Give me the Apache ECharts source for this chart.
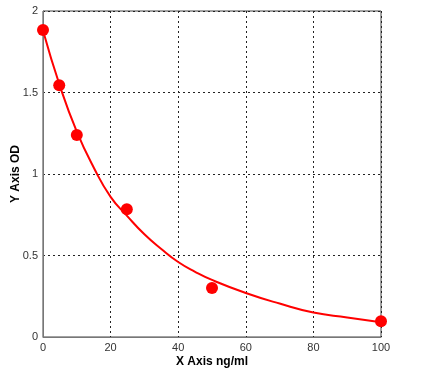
<!DOCTYPE html>
<html>
<head>
<meta charset="utf-8">
<script src="https://cdn.jsdelivr.net/npm/echarts@6/dist/echarts.min.js"></script>
<style>
html, body { margin: 0; padding: 0; background: #fff; }
#chart { width: 425px; height: 377px; }
</style>
</head>
<body>
<div id="chart"></div>
<script>
// measured standards
var pointX = [0, 4.8, 10, 24.8, 50, 100];
var pointY = [1.883, 1.544, 1.239, 0.784, 0.30, 0.096];

// fitted curve
var curveX = [0, 5, 10, 15, 20, 25, 30, 35, 40, 45, 50, 60, 70, 80, 90, 100];
var curveY = [1.88, 1.54, 1.26, 1.04, 0.86, 0.74, 0.63, 0.54, 0.46, 0.40, 0.35, 0.27, 0.205, 0.15, 0.12, 0.09];

var xTicks = [0, 20, 40, 60, 80, 100];
var yTicks = [0, 0.5, 1, 1.5, 2];

var pairs = function (xs, ys) {
    return xs.map(function (x, i) { return [x, ys[i]]; });
};

var myChart = echarts.init(document.getElementById('chart'));
var option = {
    animation: false,
    textStyle: { fontFamily: 'Liberation Sans, Arial, sans-serif' },
    grid: {
        left: 43, right: 44, top: 11, bottom: 40,
        outerBoundsMode: 'none', containLabel: false,
        show: true, borderColor: '#444', borderWidth: 1
    },
    xAxis: {
        type: 'value', min: 0, max: 100, interval: 20,
        name: 'X Axis ng/ml', nameLocation: 'middle', nameGap: 19,
        nameMoveOverlap: false,
        nameTextStyle: { fontWeight: 'bold', fontSize: 12, color: '#000', verticalAlign: 'top' },
        axisLine: { lineStyle: { color: '#777', width: 1 } },
        axisTick: { show: false },
        axisLabel: { color: '#333', fontSize: 11, margin: 5 },
        splitLine: { lineStyle: { color: '#222', type: [2, 3], width: 1 } }
    },
    yAxis: {
        type: 'value', min: 0, max: 2, interval: 0.5,
        name: 'Y Axis OD', nameLocation: 'middle', nameGap: 21,
        nameMoveOverlap: false,
        nameTextStyle: { fontWeight: 'bold', fontSize: 12, color: '#000', verticalAlign: 'bottom' },
        axisLine: { show: true, lineStyle: { color: '#777', width: 1 } },
        axisTick: { show: false },
        axisLabel: { color: '#333', fontSize: 11, margin: 5 },
        splitLine: { lineStyle: { color: '#222', type: [2, 3], width: 1 } }
    },
    series: [{
        type: 'line',
        data: pairs(curveX, curveY),
        smooth: true,
        showSymbol: false,
        lineStyle: { color: '#ff0000', width: 2 },
        z: 2
    }, {
        type: 'scatter',
        data: pairs(pointX, pointY),
        symbol: 'circle',
        symbolSize: 12,
        itemStyle: { color: '#ff0000', opacity: 1 },
        z: 3
    }]
};
myChart.setOption(option, true);
</script>
</body>
</html>
